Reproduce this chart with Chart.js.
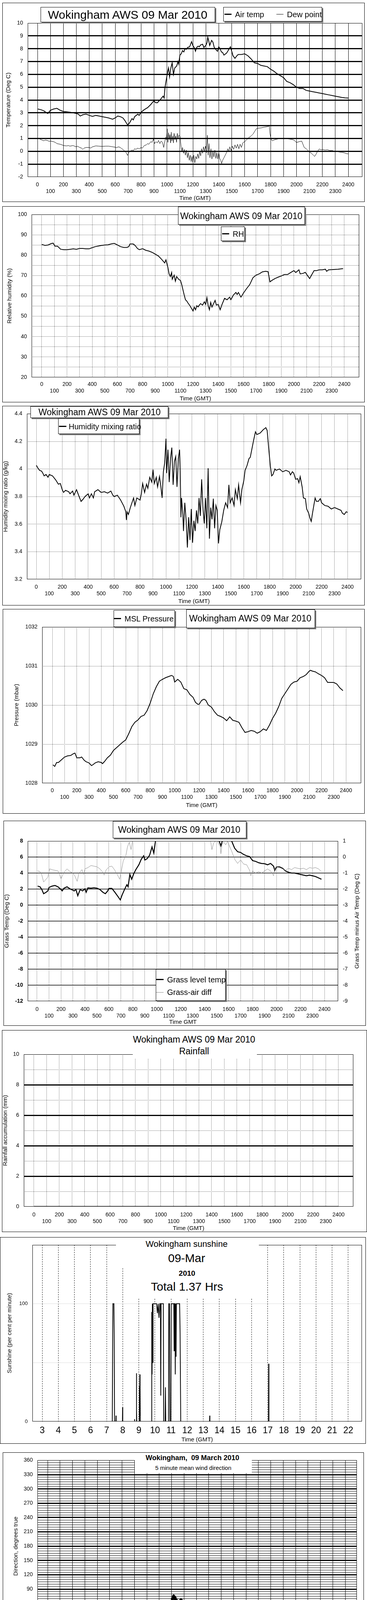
<!DOCTYPE html>
<html><head><meta charset="utf-8">
<script src="https://cdn.jsdelivr.net/npm/chart.js@4"></script>
<style>
html,body{margin:0;padding:0;background:#fff;}
#page{position:relative;width:940px;height:4800px;overflow:hidden;background:#fff;}
.panel{position:absolute;border:1px solid #000;box-sizing:border-box;pointer-events:none;z-index:1;}
.box{position:absolute;background:#fff;border:1px solid #000;box-shadow:3px 3px 0 #7a7a7a;box-sizing:border-box;z-index:2;}
.wh{position:absolute;background:#fff;z-index:2;}
.t{position:absolute;white-space:pre;transform:translate(-50%,-50%);font-family:'Liberation Sans',Arial,Helvetica,sans-serif;color:#000;line-height:1;z-index:3;}
.tl{position:absolute;white-space:pre;transform:translate(0,-50%);font-family:'Liberation Sans',Arial,Helvetica,sans-serif;color:#000;line-height:1;z-index:3;}
.ln{position:absolute;height:0;z-index:3;}
</style></head>
<body>
<div id="page">
<!-- Panel 1 overlays -->
<div class="box" style="left:104px;top:18px;width:447px;height:39px"></div>
<div class="t" style="left:327px;top:38px;font-size:30px">Wokingham AWS 09 Mar 2010</div>
<div class="box" style="left:572px;top:18px;width:253px;height:37px"></div>
<div class="ln" style="left:575px;top:35px;width:18px;border-top:3px solid #000"></div>
<div class="tl" style="left:602px;top:37px;font-size:20px">Air temp</div>
<div class="ln" style="left:708px;top:36px;width:18px;border-top:1px solid #000"></div>
<div class="tl" style="left:735px;top:37px;font-size:20px">Dew point</div>
<!-- Panel 2 -->
<div class="box" style="left:456px;top:529px;width:325px;height:46px"></div>
<div class="t" style="left:618px;top:553px;font-size:23px">Wokingham AWS 09 Mar 2010</div>
<div class="box" style="left:566px;top:580px;width:61px;height:37px"></div>
<div class="ln" style="left:569px;top:597px;width:18px;border-top:3px solid #000"></div>
<div class="tl" style="left:596px;top:599px;font-size:20px">RH</div>
<!-- Panel 3 -->
<div class="box" style="left:78px;top:1040px;width:353px;height:30px"></div>
<div class="t" style="left:255px;top:1055px;font-size:23px">Wokingham AWS 09 Mar 2010</div>
<div class="box" style="left:149px;top:1071px;width:208px;height:40px"></div>
<div class="ln" style="left:151px;top:1090px;width:19px;border-top:3px solid #000"></div>
<div class="tl" style="left:176px;top:1092px;font-size:20px">Humidity mixing ratio</div>
<!-- Panel 4 -->
<div class="box" style="left:291px;top:1562px;width:157px;height:43px"></div>
<div class="ln" style="left:292px;top:1582px;width:18px;border-top:3px solid #000"></div>
<div class="tl" style="left:319px;top:1584px;font-size:20px">MSL Pressure</div>
<div class="box" style="left:477px;top:1560px;width:330px;height:48px"></div>
<div class="t" style="left:641px;top:1583px;font-size:23px">Wokingham AWS 09 Mar 2010</div>
<!-- Panel 5 -->
<div class="box" style="left:289px;top:2102px;width:342px;height:44px"></div>
<div class="t" style="left:459px;top:2124px;font-size:23px">Wokingham AWS 09 Mar 2010</div>
<div class="box" style="left:399px;top:2481px;width:179px;height:81px"></div>
<div class="ln" style="left:400px;top:2506px;width:19px;border-top:3px solid #000"></div>
<div class="tl" style="left:428px;top:2508px;font-size:20px">Grass level temp</div>
<div class="ln" style="left:400px;top:2540px;width:19px;border-top:1px solid #8a8a8a"></div>
<div class="tl" style="left:428px;top:2540px;font-size:20px">Grass-air diff</div>
<div class="t" style="left:913px;top:2358px;font-size:15px;transform:translate(-50%,-50%) rotate(-90deg)">Grass Temp minus Air Temp (Deg C)</div>
<!-- Panel 6 -->
<div class="wh" style="left:340px;top:2641px;width:318px;height:68px"></div>
<div class="t" style="left:497px;top:2661px;font-size:23px">Wokingham AWS 09 Mar 2010</div>
<div class="t" style="left:497px;top:2691px;font-size:23px">Rainfall</div>
<!-- Panel 7 -->
<div class="wh" style="left:297px;top:3170px;width:366px;height:74px"></div>
<div class="wh" style="left:315px;top:3243px;width:331px;height:80px"></div>
<div class="t" style="left:478px;top:3185px;font-size:22px">Wokingham sunshine</div>
<div class="t" style="left:478px;top:3221px;font-size:30px">09-Mar</div>
<div class="t" style="left:479px;top:3259px;font-size:19px;font-weight:bold">2010</div>
<div class="t" style="left:479px;top:3294px;font-size:30px">Total 1.37 Hrs</div>
<!-- Panel 8 -->
<div class="wh" style="left:345px;top:3722px;width:300px;height:49px"></div>
<div class="t" style="left:493px;top:3732px;font-size:18px;font-weight:bold">Wokingham,  09 March 2010</div>
<div class="t" style="left:495px;top:3757px;font-size:15px">5 minute mean wind direction</div>
<!-- Panel 9 -->
<div class="t" style="left:312px;top:4267px;font-size:23px">Wokingham,  09 March 2010</div>
<div class="t" style="left:554px;top:4267px;font-size:19px;font-weight:bold">Wind speed</div>
<div class="box" style="left:713px;top:4245px;width:177px;height:58px"></div>
<div class="ln" style="left:720px;top:4259px;width:15px;border-top:3px solid #000"></div>
<div class="tl" style="left:744px;top:4261px;font-size:15px">10 Min mean speed</div>
<div class="ln" style="left:720px;top:4288px;width:15px;border-top:1px solid #000"></div>
<div class="tl" style="left:744px;top:4288px;font-size:15px">Gusts</div>
</div>
<script>
// ---------------- DATA ----------------
const HOUR_TICKS = [0,1,2,3,4,5,6,7,8,9,10,11,12,13,14,15,16,17,18,19,20,21,22,23,24];
const CLOCK_TICKS = [0,1,2,3,4,5,6,7,8,9,10,11,12,13,14,15,16,17,18,19,20,21,22,23];
const SUN_HOUR_TICKS = [3,4,5,6,7,8,9,10,11,12,13,14,15,16,17,18,19,20,21,22];
const TEMP_TICKS = [-2,-1,0,1,2,3,4,5,6,7,8,9,10];
const RH_TICKS = [20,30,40,50,60,70,80,90,100];
const MR_TICKS = [3.2,3.4,3.6,3.8,4.0,4.2,4.4];
const PRES_TICKS = [1028,1029,1030,1031,1032];
const GRASS_TICKS = [-12,-10,-8,-6,-4,-2,0,2,4,6,8];
const DIFF_TICKS = [-9,-8,-7,-6,-5,-4,-3,-2,-1,0,1];
const RAIN_TICKS = [0,2,4,6,8,10];
const SUN_TICKS = [0,100];
const DIR_TICKS = [0,30,60,90,120,150,180,210,240,270,300,330,360];
const SPEED_TICKS = [0,10,20,30,40,50];

// [hour, value]
const AIR_TEMP = [[0,3.3],[0.25,3.25],[0.5,3.15],[0.7,3.0],[0.8,2.95],[1.0,3.2],[1.25,3.3],[1.5,3.35],[1.75,3.2],[2.0,3.1],[2.25,3.08],[2.5,3.05],[2.75,3.0],[3.0,2.95],[3.15,2.9],[3.3,2.75],[3.5,2.85],[3.75,2.9],[4.0,2.8],[4.25,2.72],[4.5,2.8],[4.75,2.75],[5.0,2.7],[5.25,2.65],[5.5,2.6],[5.8,2.5],[6.0,2.6],[6.2,2.75],[6.4,2.7],[6.6,2.6],[6.75,2.4],[6.9,2.15],[6.97,2.05],[7.1,2.2],[7.3,2.55],[7.4,2.45],[7.5,2.7],[7.75,2.9],[7.85,2.8],[8.0,3.05],[8.25,3.25],[8.5,3.4],[8.75,3.65],[9.0,3.95],[9.1,3.8],[9.25,3.78],[9.5,4.05],[9.7,4.3],[9.78,4.15],[9.85,5.0],[9.95,5.6],[10.05,6.2],[10.12,6.5],[10.2,5.8],[10.3,6.5],[10.4,6.9],[10.5,6.0],[10.6,6.5],[10.75,6.65],[10.85,7.0],[10.9,6.8],[11.0,7.5],[11.1,7.6],[11.2,7.85],[11.3,7.75],[11.4,8.0],[11.5,7.95],[11.6,8.1],[11.75,8.15],[11.9,8.55],[12.0,8.25],[12.1,8.1],[12.2,7.8],[12.3,8.1],[12.4,8.2],[12.5,8.15],[12.6,8.3],[12.75,8.35],[12.85,8.1],[13.0,8.25],[13.1,8.5],[13.15,8.9],[13.25,8.5],[13.3,8.25],[13.45,8.65],[13.55,8.5],[13.65,8.1],[13.8,7.9],[13.9,7.8],[14.0,8.15],[14.1,8.0],[14.2,7.75],[14.3,7.7],[14.4,7.5],[14.6,7.65],[14.75,7.9],[14.9,8.15],[15.0,7.8],[15.1,7.45],[15.25,7.25],[15.4,7.45],[15.5,7.55],[15.75,7.55],[16.0,7.6],[16.25,7.45],[16.5,7.2],[16.75,6.9],[17.0,6.85],[17.25,6.7],[17.5,6.65],[17.75,6.6],[18.0,6.4],[18.25,6.25],[18.5,6.05],[18.75,5.9],[19.0,5.75],[19.25,5.45],[19.5,5.35],[19.75,5.2],[20.0,5.0],[20.25,4.9],[20.5,4.9],[20.75,4.75],[21.0,4.7],[21.25,4.65],[21.5,4.6],[21.75,4.55],[22.0,4.5],[22.25,4.45],[22.5,4.4],[22.75,4.35],[23.0,4.3],[23.25,4.25],[23.5,4.2],[23.75,4.17],[24.0,4.15]];

const DEW_POINT = [[0.1,1.0],[0.3,0.9],[0.4,0.85],[0.5,0.82],[0.6,0.88],[0.75,0.85],[0.9,0.78],[1.0,0.8],[1.25,0.75],[1.4,0.68],[1.5,0.6],[1.75,0.55],[1.9,0.5],[2.0,0.45],[2.25,0.42],[2.4,0.45],[2.5,0.4],[2.75,0.45],[2.9,0.38],[3.0,0.35],[3.1,0.4],[3.25,0.3],[3.4,0.25],[3.5,0.15],[3.6,0.25],[3.75,0.3],[4.0,0.3],[4.1,0.25],[4.25,0.35],[4.5,0.42],[4.75,0.4],[5.0,0.38],[5.25,0.4],[5.5,0.4],[5.75,0.36],[6.0,0.32],[6.1,0.28],[6.25,0.35],[6.4,0.3],[6.5,0.2],[6.6,0.15],[6.75,0.0],[6.85,-0.1],[6.95,-0.32],[7.05,-0.1],[7.15,0.0],[7.3,0.1],[7.4,0.05],[7.5,0.2],[7.6,0.15],[7.75,0.25],[7.85,0.18],[8.0,0.3],[8.1,0.25],[8.25,0.45],[8.4,0.5],[8.5,0.6],[8.6,0.55],[8.75,0.75],[8.85,0.7],[8.95,0.95],[9.05,0.6],[9.15,0.75],[9.25,0.65],[9.35,0.85],[9.45,0.6],[9.55,0.8],[9.65,0.7],[9.75,0.3],[9.8,0.6],[9.9,1.1],[9.95,0.9],[10.02,1.75],[10.07,0.7],[10.12,1.45],[10.18,0.9],[10.23,1.3],[10.28,0.65],[10.33,1.5],[10.38,0.8],[10.45,1.2],[10.5,0.65],[10.55,1.4],[10.62,0.9],[10.68,1.2],[10.74,0.7],[10.8,1.4],[10.86,1.0],[10.92,1.25],[11.0,1.2],[11.05,0.75],[11.1,0.3],[11.15,0.0],[11.2,0.3],[11.28,-0.15],[11.35,0.15],[11.42,-0.3],[11.5,0.1],[11.58,-0.5],[11.65,-0.1],[11.72,-0.7],[11.8,-0.3],[11.87,-0.8],[11.93,-0.4],[12.0,-0.85],[12.07,-0.3],[12.15,-0.9],[12.22,-0.4],[12.3,-0.6],[12.37,-0.2],[12.45,-0.55],[12.52,0.0],[12.6,-0.35],[12.67,0.2],[12.75,-0.15],[12.82,0.35],[12.9,0.0],[12.97,0.4],[13.05,-0.1],[13.12,1.25],[13.18,-0.3],[13.25,0.6],[13.32,-0.5],[13.4,0.2],[13.47,-0.6],[13.55,0.0],[13.62,-0.45],[13.7,0.1],[13.78,-0.55],[13.85,-0.1],[13.92,-0.6],[14.0,-0.1],[14.07,-0.55],[14.15,-0.7],[14.22,-0.95],[14.3,-0.7],[14.4,-0.5],[14.5,-0.3],[14.6,-0.1],[14.7,0.2],[14.78,-0.05],[14.85,0.35],[14.95,0.05],[15.05,0.4],[15.15,0.15],[15.25,0.5],[15.35,0.25],[15.45,0.55],[15.55,0.2],[15.65,0.55],[15.75,0.3],[15.85,0.65],[16.0,0.75],[16.15,0.9],[16.3,1.05],[16.5,1.2],[16.65,1.35],[16.8,1.6],[16.9,1.75],[17.0,1.8],[17.25,1.82],[17.5,1.88],[17.75,1.92],[17.9,1.98],[17.95,1.4],[18.05,0.9],[18.15,0.82],[18.3,0.9],[18.5,0.95],[18.75,1.0],[19.0,0.98],[19.25,0.98],[19.5,0.95],[19.75,0.9],[19.9,0.8],[20.0,0.68],[20.2,0.75],[20.4,0.8],[20.5,0.55],[20.6,0.3],[20.75,0.2],[20.9,0.05],[21.0,-0.05],[21.15,-0.15],[21.3,-0.3],[21.4,-0.4],[21.5,-0.25],[21.6,-0.05],[21.75,0.18],[21.9,0.12],[22.0,0.15],[22.2,0.1],[22.4,0.12],[22.6,0.05],[22.75,0.08],[22.9,0.0],[23.1,-0.02],[23.3,-0.05],[23.5,-0.08],[23.7,-0.12],[23.85,-0.18],[24.0,-0.2]];

const REL_HUMIDITY = [[0,85.3],[0.25,84.8],[0.5,85.0],[0.75,85.7],[0.9,85.9],[1.05,84.4],[1.25,84.4],[1.5,82.9],[1.75,82.7],[2.0,82.7],[2.25,82.9],[2.5,83.1],[2.75,82.9],[3.0,83.3],[3.25,83.3],[3.5,83.1],[3.75,83.1],[4.0,83.7],[4.25,84.2],[4.5,84.5],[4.75,84.8],[5.0,85.0],[5.25,85.1],[5.5,85.5],[5.75,85.8],[6.0,85.0],[6.25,84.2],[6.5,83.8],[6.75,83.8],[6.9,84.2],[7.0,85.5],[7.25,85.5],[7.4,84.8],[7.6,83.2],[7.75,82.7],[8.0,83.2],[8.25,82.4],[8.5,82.0],[8.75,81.4],[9.0,80.5],[9.25,79.6],[9.5,78.0],[9.75,76.2],[9.85,77.7],[10.0,74.1],[10.1,70.8],[10.2,69.5],[10.3,71.5],[10.35,68.2],[10.5,70.2],[10.6,67.2],[10.7,69.5],[10.85,68.2],[11.0,67.6],[11.1,65.6],[11.2,63.0],[11.3,60.4],[11.4,58.1],[11.5,57.5],[11.6,56.5],[11.75,55.2],[11.9,53.6],[12.0,52.6],[12.1,54.5],[12.2,53.2],[12.3,55.2],[12.4,54.6],[12.5,55.5],[12.6,56.2],[12.75,55.5],[12.9,57.1],[13.0,55.8],[13.1,59.1],[13.2,55.2],[13.3,53.2],[13.4,56.8],[13.5,54.5],[13.6,55.8],[13.75,57.8],[13.85,55.5],[14.0,55.8],[14.15,53.2],[14.3,55.8],[14.5,58.8],[14.7,58.1],[14.9,59.4],[15.0,58.1],[15.2,60.4],[15.4,61.7],[15.5,60.7],[15.6,61.7],[15.8,59.4],[16.0,61.4],[16.25,63.6],[16.5,65.6],[16.75,68.9],[17.0,70.2],[17.25,70.8],[17.5,71.8],[17.75,72.1],[17.95,71.9],[18.1,66.9],[18.25,67.6],[18.5,68.5],[18.75,69.2],[19.0,69.8],[19.25,70.5],[19.5,70.5],[19.75,71.5],[20.0,72.4],[20.15,71.5],[20.4,72.8],[20.5,70.8],[20.75,71.1],[20.9,71.6],[21.1,69.8],[21.25,68.5],[21.4,70.2],[21.6,72.4],[21.8,72.4],[22.0,72.8],[22.25,72.8],[22.5,73.1],[22.6,72.1],[22.75,72.8],[23.0,72.9],[23.25,73.0],[23.5,73.1],[23.75,73.3],[23.9,73.4]];

const MIXING_RATIO = [[0,4.027],[0.1,4.01],[0.25,3.99],[0.4,3.985],[0.5,3.97],[0.6,3.95],[0.75,3.96],[0.9,3.94],[1.0,3.96],[1.25,3.95],[1.5,3.92],[1.7,3.89],[1.85,3.895],[2.0,3.85],[2.1,3.83],[2.25,3.845],[2.5,3.835],[2.6,3.82],[2.8,3.84],[2.9,3.81],[3.0,3.83],[3.1,3.85],[3.3,3.80],[3.45,3.765],[3.6,3.78],[3.75,3.80],[4.0,3.82],[4.1,3.79],[4.25,3.82],[4.4,3.79],[4.5,3.835],[4.75,3.85],[5.0,3.83],[5.25,3.835],[5.5,3.825],[5.75,3.84],[5.9,3.81],[6.0,3.80],[6.25,3.81],[6.5,3.775],[6.75,3.73],[6.9,3.69],[6.95,3.63],[7.0,3.69],[7.1,3.67],[7.25,3.72],[7.5,3.79],[7.6,3.735],[7.75,3.79],[8.0,3.775],[8.1,3.82],[8.2,3.895],[8.35,3.83],[8.5,3.89],[8.6,3.86],[8.75,3.94],[8.9,3.905],[9.0,3.995],[9.1,3.895],[9.25,3.94],[9.35,3.87],[9.5,3.945],[9.6,3.875],[9.7,3.79],[9.8,3.98],[9.9,4.045],[10.0,4.22],[10.05,3.97],[10.15,4.14],[10.25,3.905],[10.35,4.075],[10.45,4.155],[10.55,3.885],[10.65,4.055],[10.75,4.09],[10.85,3.87],[10.95,4.075],[11.05,4.14],[11.1,3.98],[11.15,3.65],[11.2,3.79],[11.3,3.67],[11.35,3.55],[11.45,3.755],[11.55,3.635],[11.65,3.43],[11.75,3.65],[11.85,3.485],[11.95,3.71],[12.05,3.465],[12.15,3.625],[12.25,3.55],[12.35,3.70],[12.45,3.605],[12.55,3.79],[12.65,3.66],[12.75,3.925],[12.85,3.72],[12.95,3.605],[13.05,3.79],[13.15,3.57],[13.25,4.005],[13.35,3.495],[13.45,3.72],[13.55,3.635],[13.65,3.785],[13.75,3.57],[13.85,3.735],[13.95,3.70],[14.05,3.46],[14.15,3.56],[14.3,3.615],[14.45,3.70],[14.6,3.755],[14.75,3.72],[14.85,3.885],[14.95,3.755],[15.1,3.79],[15.25,3.735],[15.35,3.85],[15.5,3.785],[15.6,3.885],[15.75,3.755],[15.85,3.85],[16.0,3.915],[16.1,3.99],[16.25,4.025],[16.4,4.075],[16.5,4.085],[16.75,4.205],[16.9,4.27],[17.0,4.25],[17.25,4.26],[17.5,4.285],[17.7,4.30],[17.8,4.28],[17.95,4.12],[18.05,4.02],[18.15,3.95],[18.25,3.96],[18.4,4.0],[18.5,3.99],[18.75,4.0],[19.0,3.98],[19.25,3.99],[19.5,3.98],[19.6,3.957],[19.75,3.98],[19.85,3.97],[20.0,3.925],[20.15,3.93],[20.25,3.90],[20.35,3.945],[20.5,3.87],[20.6,3.79],[20.75,3.785],[20.85,3.71],[21.0,3.68],[21.1,3.645],[21.2,3.62],[21.3,3.68],[21.4,3.735],[21.5,3.79],[21.6,3.765],[21.75,3.765],[21.9,3.785],[22.0,3.755],[22.25,3.735],[22.5,3.73],[22.75,3.71],[23.0,3.72],[23.25,3.71],[23.5,3.70],[23.6,3.68],[23.75,3.67],[23.9,3.69],[24.0,3.685]];

const MSL_PRESSURE = [[0.05,1028.47],[0.2,1028.43],[0.35,1028.53],[0.5,1028.53],[0.75,1028.60],[1.0,1028.67],[1.25,1028.70],[1.5,1028.71],[1.75,1028.76],[1.85,1028.77],[2.0,1028.65],[2.25,1028.65],[2.4,1028.67],[2.6,1028.59],[2.75,1028.55],[3.0,1028.52],[3.2,1028.45],[3.35,1028.48],[3.5,1028.52],[3.75,1028.55],[4.0,1028.53],[4.1,1028.50],[4.25,1028.55],[4.5,1028.65],[4.75,1028.72],[5.0,1028.84],[5.25,1028.91],[5.5,1028.98],[5.75,1029.05],[6.0,1029.11],[6.25,1029.27],[6.5,1029.45],[6.75,1029.56],[7.0,1029.62],[7.25,1029.71],[7.5,1029.74],[7.75,1029.86],[8.0,1030.05],[8.25,1030.29],[8.5,1030.47],[8.75,1030.61],[9.0,1030.66],[9.25,1030.70],[9.5,1030.73],[9.75,1030.76],[9.9,1030.73],[10.0,1030.59],[10.25,1030.66],[10.5,1030.59],[10.75,1030.42],[11.0,1030.39],[11.25,1030.27],[11.5,1030.20],[11.7,1030.07],[11.9,1030.02],[12.0,1030.02],[12.2,1030.12],[12.4,1030.15],[12.55,1030.12],[12.75,1030.00],[13.0,1029.95],[13.25,1029.83],[13.5,1029.74],[13.75,1029.71],[14.0,1029.67],[14.25,1029.60],[14.5,1029.70],[14.75,1029.61],[15.0,1029.59],[15.25,1029.56],[15.5,1029.42],[15.75,1029.30],[16.0,1029.32],[16.25,1029.35],[16.5,1029.33],[16.75,1029.28],[17.0,1029.32],[17.25,1029.39],[17.5,1029.35],[17.75,1029.49],[18.0,1029.66],[18.25,1029.79],[18.5,1029.96],[18.75,1030.17],[19.0,1030.29],[19.25,1030.41],[19.5,1030.53],[19.75,1030.59],[20.0,1030.61],[20.25,1030.70],[20.5,1030.73],[20.75,1030.78],[21.0,1030.87],[21.1,1030.89],[21.25,1030.87],[21.5,1030.85],[21.75,1030.80],[22.0,1030.76],[22.25,1030.70],[22.5,1030.58],[22.75,1030.58],[23.0,1030.58],[23.25,1030.54],[23.5,1030.44],[23.75,1030.37]];

const GRASS_TEMP = [[0.05,2.37],[0.25,2.28],[0.4,1.94],[0.55,1.42],[0.75,1.6],[0.9,1.77],[1.0,2.2],[1.25,2.37],[1.5,2.45],[1.75,2.28],[2.0,1.94],[2.1,1.77],[2.25,2.11],[2.5,2.28],[2.75,2.03],[3.0,1.85],[3.1,1.77],[3.25,1.94],[3.4,1.17],[3.6,1.94],[3.8,1.77],[4.0,2.03],[4.1,1.6],[4.25,2.15],[4.5,2.11],[4.75,2.16],[5.0,2.11],[5.25,1.94],[5.5,1.6],[5.7,1.42],[5.9,1.77],[6.0,2.08],[6.25,2.08],[6.5,1.6],[6.75,1.08],[6.95,0.65],[7.1,1.25],[7.3,1.94],[7.5,2.54],[7.6,2.28],[7.75,3.83],[7.9,3.23],[8.1,4.0],[8.25,4.43],[8.5,5.03],[8.7,5.72],[8.9,6.15],[9.0,5.63],[9.2,5.8],[9.4,6.23],[9.6,7.26],[9.75,6.49],[9.85,7.6],[9.95,8.6],[10.3,9.6],[11.0,10.5],[12.0,11.0],[13.0,11.0],[14.0,10.0],[14.6,9.2],[15.1,8.4],[15.25,7.8],[15.35,7.4],[15.45,7.9],[15.6,8.5],[16.0,8.5],[16.25,8.0],[16.5,7.1],[16.75,6.66],[17.0,6.57],[17.25,6.32],[17.5,6.15],[17.75,6.06],[18.0,5.55],[18.25,5.46],[18.5,5.29],[18.75,5.2],[19.0,5.17],[19.25,5.03],[19.5,5.2],[19.75,4.86],[19.85,4.34],[20.0,4.77],[20.25,4.77],[20.5,4.6],[20.75,4.26],[21.0,4.09],[21.25,4.0],[21.5,4.0],[21.75,3.91],[22.0,3.83],[22.25,3.74],[22.5,3.66],[22.75,3.74],[23.0,3.66],[23.25,3.57],[23.5,3.4],[23.75,3.23]];

const GRASS_AIR_DIFF = [[0.05,-0.87],[0.25,-0.91],[0.4,-1.13],[0.55,-1.56],[0.7,-1.43],[0.9,-1.26],[1.05,-0.74],[1.25,-0.79],[1.5,-0.83],[1.75,-0.87],[2.0,-1.34],[2.25,-0.96],[2.5,-0.74],[2.75,-0.91],[3.0,-1.0],[3.15,-1.17],[3.35,-1.52],[3.5,-1.0],[3.75,-0.79],[3.9,-1.09],[4.0,-0.74],[4.25,-0.66],[4.5,-0.53],[4.75,-0.57],[5.0,-0.61],[5.25,-0.74],[5.5,-0.96],[5.6,-1.13],[5.75,-0.83],[6.0,-0.61],[6.25,-0.57],[6.5,-0.83],[6.75,-1.17],[6.9,-1.39],[7.05,-0.83],[7.2,-0.23],[7.4,0.03],[7.55,0.63],[7.7,0.93],[7.85,0.46],[7.95,0.89],[8.1,1.5],[9.0,2.5],[10.0,3.0],[11.0,3.0],[12.0,3.0],[13.0,2.5],[14.0,1.8],[14.45,1.1],[14.5,0.97],[14.6,0.46],[14.75,0.89],[15.0,1.05],[15.3,0.63],[15.35,0.2],[15.45,0.8],[15.6,0.93],[15.75,0.76],[15.9,0.97],[16.0,0.8],[16.25,0.37],[16.5,-0.14],[16.75,-0.4],[17.0,-0.18],[17.25,-0.44],[17.5,-0.48],[17.75,-0.83],[17.85,-1.17],[18.0,-0.87],[18.25,-1.0],[18.5,-0.91],[18.75,-1.0],[19.0,-0.87],[19.25,-0.74],[19.5,-0.87],[19.75,-1.17],[19.85,-0.7],[20.0,-0.61],[20.25,-0.66],[20.5,-0.74],[20.75,-0.83],[21.0,-0.7],[21.25,-0.79],[21.5,-0.66],[21.75,-0.7],[22.0,-0.74],[22.25,-0.7],[22.5,-0.79],[22.75,-0.66],[23.0,-0.7],[23.25,-0.66],[23.5,-0.74],[23.75,-0.91]];

const RAINFALL = [[0,0],[24,0]];

const SUNSHINE = [[3,0],[7.35,0],[7.37,60],[7.39,100],[7.45,100],[7.47,75],[7.49,0],[7.57,0],[7.58,5],[7.59,0],[7.98,0],[7.99,12],[8.0,0],[8.72,0],[8.73,2],[8.74,0],[8.84,0],[8.85,41],[8.86,10],[8.87,0],[9.03,0],[9.04,30],[9.05,10],[9.06,40],[9.07,5],[9.08,30],[9.09,0],[9.79,0],[9.8,93],[9.82,40],[9.84,100],[9.86,50],[9.88,100],[10.1,100],[10.15,92],[10.2,100],[10.25,88],[10.3,100],[10.34,100],[10.36,22],[10.38,100],[10.52,100],[10.54,0],[10.63,0],[10.65,29],[10.67,0],[10.84,0],[10.86,100],[10.9,100],[10.93,0],[10.99,0],[11.01,100],[11.17,100],[11.19,60],[11.21,100],[11.24,100],[11.26,40],[11.28,100],[11.31,55],[11.33,100],[11.53,100],[11.56,75],[11.6,0],[13.39,0],[13.4,5],[13.41,0],[17.05,0],[17.06,49],[17.07,24],[17.08,0],[22,0]];

// 5-minute mean wind direction, one row per hour (00:00 .. 23:55)
const WIND_DIR = [
44,38,37,40,36,35,30,36,38,37,39,40,
40,41,42,40,41,42,40,39,41,40,39,38,
38,36,40,41,38,35,37,38,40,41,37,38,
40,44,42,38,35,45,50,48,44,46,42,38,
42,45,44,42,45,46,44,43,42,40,38,36,
35,40,46,48,38,34,30,36,40,42,48,46,
50,52,50,55,58,60,57,55,58,60,56,54,
55,57,50,45,48,46,44,40,46,48,50,52,
54,52,50,47,45,50,55,52,48,45,52,55,
55,52,48,43,50,55,46,52,48,55,58,56,
65,70,75,72,68,60,58,55,62,67,65,60,
42,40,35,20,30,32,28,36,25,26,40,45,
52,48,40,38,42,44,40,42,45,48,50,52,
36,32,38,42,28,24,22,26,30,35,38,32,
28,30,34,28,26,30,32,26,22,20,24,28,
26,24,28,30,22,18,26,28,30,32,28,30,
22,18,26,30,32,34,28,24,25,6,10,12,
8,10,12,8,6,10,12,14,10,8,12,16,
20,25,28,30,32,30,28,25,22,24,26,28,
26,22,24,28,26,24,25,23,26,28,27,26,
28,30,32,34,33,35,32,36,34,35,38,36,
40,44,40,38,36,34,32,30,28,30,32,30,
32,34,35,36,40,36,34,32,30,33,35,32,
34,38,36,40,38,36,38,40,42,38,37,38];

// 10-minute mean wind speed (knots), one row per hour, plus final value at 24:00
const MEAN_SPEED = [
7.5,7.0,6.6,6.5,6.6,7.0,
8.0,7.5,7.5,7.8,8.0,9.0,
9.0,7.0,6.5,7.2,7.0,6.8,
7.0,6.8,7.5,7.0,6.0,5.5,
6.0,7.0,6.0,5.5,5.0,5.2,
5.0,6.5,6.0,5.0,4.8,5.5,
6.5,7.0,6.5,6.8,7.0,6.5,
7.0,6.0,5.5,6.5,6.0,5.0,
4.8,5.2,5.5,6.0,6.0,6.2,
6.5,7.0,7.5,7.0,7.0,7.2,
7.0,6.8,7.0,6.0,5.0,5.0,
5.5,7.0,8.0,8.5,9.0,10.0,
11.0,11.5,12.0,11.5,12.0,11.0,
10.0,9.5,11.0,12.0,12.0,12.5,
11.0,10.0,10.0,10.5,10.0,9.5,
10.0,10.5,11.0,10.0,9.5,8.5,
7.5,8.5,9.0,9.5,8.0,6.5,
6.0,7.0,7.5,8.0,9.0,10.0,
10.5,10.0,10.0,10.5,10.5,10.0,
9.5,10.0,10.5,11.5,12.0,12.0,
12.0,11.5,11.5,11.0,10.5,10.0,
9.5,8.0,8.0,7.5,8.5,9.0,
7.5,7.5,8.0,8.5,8.0,8.0,
8.0,7.5,7.5,7.5,7.0,7.5,
7.5];
// 5-minute gusts (knots), one row per hour, plus final value at 24:00
const GUST_SPEED = [
10,8,9,11,12,8,8.5,10,10,8,9,11,
11,9,13.5,10,9,12,18,10,12,9,10,13,
13.5,8,9,11,12.5,8,8,10,11,8.5,9.5,12,
12,8,8,11,12.5,8,9,10,7.5,9,13.5,8,
9,11,12,7,8,10,10.5,7,7,9,9,6,
6.5,8,9.5,7,7.5,10,13,7,8,11,11,8,
12,9,16.5,10,9,14,14,9,10,12,16,9,
11,8,9,12,12,7,8,10,10.5,7,8.5,10,
9,7,7.5,9,10,8,9,12,12,8,11,9,
16,9,10,12,12,8,9.5,13,13,9,12,12.5,
12.5,9,11,13,9,8,10,7,7,6,6,8,
9,8,10,17.5,17.5,11,14,10,12,15,18,12,
16,12,21,14,15,19,19,12,13,17,17,12,
14,11,22.5,15,19,13,20,14,15,18,18,13,
14,11,12,15,15,11,17,12,13,16,19,12,
19.5,11,13,16,16,11,14,17,17,11,12,14,
14,9,11,16.5,16.5,10,12,9,11,8,9,7,
8,7,10,11,11,8,13,10,16,11,18,12,
18,11,14,16,16,11,13,15,15,11,12,14,
17,11,14,21,21,13,16,19,19,13,14,17,
18,12,15,13,13,17,17,12,14,15,15,11,
14,9,11,12,12,15.5,15.5,9,13,11,11,8,
12.5,8,10,13,13,9,11,12.5,12.5,8,10,11,
11,9,12,10,10,14.5,14.5,8,9,12,12,7,
8];

// ---------------- HELPERS ----------------
const FONT = "'Liberation Sans', Arial, Helvetica, sans-serif";
const page = document.getElementById('page');
function fnt(size, weight){ return {family: FONT, size: size, weight: weight || 'normal', lineHeight: 1.2}; }
function xy(arr){ return arr.map(p => ({x: p[0], y: p[1]})); }
function byIndex(vals, stepHours){ return vals.map((v, i) => ({x: i * stepHours, y: v})); }
function seq(a, b, s){ const out = []; for (let v = a; v <= b + 1e-9; v += s) out.push(Math.round(v * 1000) / 1000); return out; }
const hhmmTwoRow = v => { const s = String(Math.round(v * 100)); return (v % 2 === 0) ? s : ['', s]; };
const clockTwoRow = v => { const s = (v < 10 ? '0' : '') + v + ':00'; return (v % 2 === 0) ? s : ['', s]; };
const plain = v => String(v);

function lineDS(arr, o){ return Object.assign({data: xy(arr), borderColor: '#000', borderWidth: 2, pointRadius: 0, fill: false, tension: 0, borderJoinStyle: 'miter'}, o || {}); }

function gridPlugin(lines){
  return {
    id: 'gridlines',
    beforeDatasetsDraw(chart){
      const ctx = chart.ctx, a = chart.chartArea;
      ctx.save();
      for (const L of lines){
        const sc = chart.scales[L.axis];
        const w = L.width || 1;
        ctx.strokeStyle = L.color || '#000';
        ctx.lineWidth = w;
        ctx.setLineDash(L.dash || []);
        const off = (Math.round(w) % 2 === 1) ? 0.5 : 0;
        for (const v of L.values){
          const p = Math.floor(sc.getPixelForValue(v)) + off;
          ctx.beginPath();
          if (sc.isHorizontal()){ ctx.moveTo(p, a.top); ctx.lineTo(p, a.bottom); }
          else { ctx.moveTo(a.left, p); ctx.lineTo(a.right, p); }
          ctx.stroke();
        }
      }
      ctx.restore();
    },
    afterDatasetsDraw(chart){
      const ctx = chart.ctx, a = chart.chartArea;
      ctx.save();
      ctx.strokeStyle = '#000'; ctx.lineWidth = 1; ctx.setLineDash([]);
      const x0 = Math.round(a.left) + 0.5, y0 = Math.round(a.top) + 0.5;
      const x1 = Math.round(a.right) - 0.5, y1 = Math.round(a.bottom) - 0.5;
      ctx.strokeRect(x0, y0, x1 - x0, y1 - y0);
      ctx.restore();
    }
  };
}

function build(g){
  const cv = document.createElement('canvas');
  cv.width = g.w; cv.height = g.h;
  cv.style.cssText = 'position:absolute;left:' + g.x + 'px;top:' + g.y + 'px;width:' + g.w + 'px;height:' + g.h + 'px;z-index:0';
  page.appendChild(cv);
  const b = document.createElement('div');
  b.className = 'panel';
  b.style.cssText = 'left:' + g.x + 'px;top:' + g.y + 'px;width:' + g.w + 'px;height:' + g.h + 'px';
  page.appendChild(b);
  const scales = {
    x: {
      type: 'linear', min: g.xmin, max: g.xmax, bounds: 'data',
      afterBuildTicks: s => { s.ticks = g.xticks.map(v => ({value: v})); },
      afterFit: s => { s.height = g.xh; },
      grid: {display: false, drawTicks: false}, border: {display: false},
      ticks: {autoSkip: false, maxRotation: 0, minRotation: 0, padding: g.xpad, color: '#000', font: fnt(g.xfont || 14), callback: g.xlabel},
      title: {display: true, text: g.xtitle, color: '#000', font: fnt(15), padding: 0}
    },
    y: {
      type: 'linear', min: g.ymin, max: g.ymax, bounds: 'data',
      afterBuildTicks: s => { s.ticks = g.yticks.map(v => ({value: v})); },
      afterFit: s => { s.width = g.yw; },
      grid: {display: false, drawTicks: false}, border: {display: false},
      ticks: {padding: 12, color: '#000', font: fnt(g.yfont || 14, g.ybold ? 'bold' : 'normal'), callback: g.ylabel || plain},
      title: {display: true, text: g.ytitle, color: '#000', font: fnt(15), padding: 0}
    }
  };
  if (g.y2){
    scales.y2 = {
      type: 'linear', position: 'right', min: g.y2.min, max: g.y2.max, bounds: 'data',
      afterBuildTicks: s => { s.ticks = g.y2.ticks.map(v => ({value: v})); },
      afterFit: s => { s.width = g.y2.w; },
      grid: {display: false, drawTicks: false}, border: {display: false},
      ticks: {padding: 12, color: '#000', font: fnt(14), callback: plain},
      title: {display: false}
    };
  }
  return new Chart(cv, {
    type: 'line',
    data: {datasets: g.datasets},
    options: {
      responsive: false, animation: false, devicePixelRatio: 1, events: [],
      layout: {padding: {left: g.pl, top: g.pt, right: g.pr, bottom: g.pb}},
      plugins: {legend: {display: false}, tooltip: {enabled: false}, title: {display: false}},
      scales: scales
    },
    plugins: [gridPlugin(g.lines)]
  });
}

const DOT = [1, 2];

// ---------------- PANELS ----------------
// 1 Temperature
build({x:6, y:7, w:928, h:510, pl:7, pt:52, pr:6, pb:0, yw:58, xh:64, xpad:12,
  xmin:-0.754, xmax:25.085, ymin:-2, ymax:10, xticks:HOUR_TICKS, yticks:TEMP_TICKS, xlabel:hhmmTwoRow,
  xtitle:'Time (GMT)', ytitle:'Temperature (Deg C)',
  lines:[{axis:'x', values:HOUR_TICKS, width:1}, {axis:'y', values:seq(-1,9,1), width:3}],
  datasets:[lineDS(AIR_TEMP, {borderWidth:2}), lineDS(DEW_POINT, {borderWidth:1})]});

// 2 Relative humidity
build({x:6, y:528, w:928, h:502, pl:10, pt:21, pr:14, pb:0, yw:65, xh:64, xpad:10,
  xmin:-0.805, xmax:25.18, ymin:20, ymax:100, xticks:HOUR_TICKS, yticks:RH_TICKS, xlabel:hhmmTwoRow,
  xtitle:'Time (GMT)', ytitle:'Relative humidity (%)',
  lines:[{axis:'x', values:HOUR_TICKS, dash:DOT}, {axis:'y', values:seq(25,95,5), dash:DOT}],
  datasets:[lineDS(REL_HUMIDITY, {borderWidth:2})]});

// 3 Mixing ratio
build({x:6, y:1039, w:928, h:511, pl:0, pt:9, pr:9, pb:1, yw:63, xh:66, xpad:12,
  xmin:-0.723, xmax:25.05, ymin:3.2, ymax:4.4, xticks:HOUR_TICKS, yticks:MR_TICKS, xlabel:hhmmTwoRow,
  ylabel: v => String(Math.round(v * 10) / 10),
  xtitle:'Time (GMT)', ytitle:'Humidity mixing ratio (g/kg)',
  lines:[{axis:'x', values:HOUR_TICKS, dash:DOT}, {axis:'y', values:[3.4,3.6,3.8,4.0,4.2], dash:DOT}],
  datasets:[lineDS(MIXING_RATIO, {borderWidth:2})]});

// 4 Pressure
build({x:7, y:1559, w:927, h:524, pl:27, pt:46, pr:9, pb:12, yw:74, xh:66, xpad:11,
  xmin:-0.83, xmax:25.24, ymin:1028, ymax:1032, xticks:HOUR_TICKS, yticks:PRES_TICKS, xlabel:hhmmTwoRow,
  xtitle:'Time (GMT)', ytitle:'Pressure (mbar)',
  lines:[{axis:'x', values:HOUR_TICKS, dash:DOT}, {axis:'y', values:[1029,1030,1031], dash:DOT}],
  datasets:[lineDS(MSL_PRESSURE, {borderWidth:2})]});

// 5 Grass temperature
build({x:9, y:2101, w:928, h:525, pl:0, pt:52, pr:15, pb:0, yw:62, xh:63, xpad:13,
  xmin:-0.78, xmax:25.14, ymin:-12, ymax:8, xticks:HOUR_TICKS, yticks:GRASS_TICKS, xlabel:hhmmTwoRow, ybold:true,
  y2:{min:-9, max:1, ticks:DIFF_TICKS, w:56},
  xtitle:'Time GMT', ytitle:'Grass Temp (Deg C)',
  lines:[{axis:'x', values:HOUR_TICKS, dash:DOT}, {axis:'y', values:seq(-10,6,2), width:1.5}],
  datasets:[lineDS(GRASS_AIR_DIFF, {borderWidth:1, borderColor:'#8a8a8a', yAxisID:'y2'}), lineDS(GRASS_TEMP, {borderWidth:2.5, yAxisID:'y'})]});

// 6 Rainfall
build({x:5, y:2637, w:935, h:517, pl:0, pt:62, pr:35, pb:0, yw:56, xh:65, xpad:13,
  xmin:-0.8, xmax:25.17, ymin:0, ymax:10, xticks:HOUR_TICKS, yticks:RAIN_TICKS, xlabel:hhmmTwoRow,
  xtitle:'Time (GMT)', ytitle:'Rainfall accumulation (mm)',
  lines:[{axis:'x', values:HOUR_TICKS, dash:DOT}, {axis:'y', values:[1,3,5,7,9], dash:DOT}, {axis:'y', values:[2,4,6,8], width:3}],
  datasets:[lineDS(RAINFALL, {borderWidth:3})]});

// 7 Sunshine
build({x:0, y:3167, w:937, h:529, pl:16, pt:12, pr:10, pb:1, yw:67, xh:56, xpad:10, xfont:23, yfont:13,
  xmin:2.39, xmax:22.85, ymin:0, ymax:150, xticks:SUN_HOUR_TICKS, yticks:SUN_TICKS, xlabel:plain,
  xtitle:'Time (GMT)', ytitle:'Sunshine (per cent per minute)',
  lines:[{axis:'x', values:SUN_HOUR_TICKS, dash:[3,3]}, {axis:'y', values:[50,100], dash:DOT, color:'#999'}],
  datasets:[lineDS(SUNSHINE, {borderWidth:2})]});

// 8 Wind direction
build({x:7, y:3718, w:925, h:512, pl:25, pt:19, pr:18, pb:4, yw:64, xh:48, xpad:12,
  xmin:-0.82, xmax:24.94, ymin:0, ymax:360, xticks:HOUR_TICKS, yticks:DIR_TICKS, xlabel:plain,
  xtitle:'Time (GMT)', ytitle:'Direction, degrees true',
  lines:[{axis:'x', values:HOUR_TICKS, width:1}, {axis:'y', values:seq(5,355,5).filter(v => v % 30 !== 0), width:1}, {axis:'y', values:seq(30,330,30), width:3}],
  datasets:[{data: byIndex(WIND_DIR, 1/12), showLine:false, pointStyle:'rectRot', pointRadius:5.5, pointBackgroundColor:'#000', pointBorderColor:'#000', pointBorderWidth:0, borderColor:'#000'}]});

// 9 Wind speed
build({x:8, y:4244, w:926, h:502, pl:5, pt:45, pr:6, pb:14, yw:58, xh:66, xpad:11,
  xmin:-0.76, xmax:25.21, ymin:0, ymax:50, xticks:CLOCK_TICKS, yticks:SPEED_TICKS, xlabel:clockTwoRow,
  xtitle:'Time (GMT)', ytitle:'Speed (knots)',
  lines:[{axis:'x', values:HOUR_TICKS, dash:DOT}, {axis:'y', values:seq(5,45,5), dash:DOT}],
  datasets:[
    {data: byIndex(GUST_SPEED, 1/12), borderColor:'#000', borderWidth:1, pointRadius:0, fill:false, tension:0},
    {data: byIndex(MEAN_SPEED, 1/6), borderColor:'#000', borderWidth:2, pointRadius:0, fill:false, tension:0}
  ]});
</script>
</body></html>
